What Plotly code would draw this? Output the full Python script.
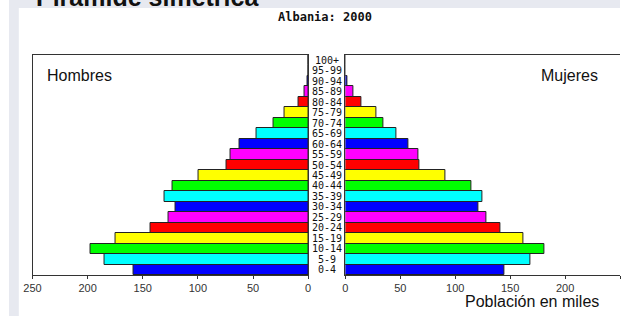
import plotly.graph_objects as go

W, H = 623, 316

age_groups = ["0-4", "5-9", "10-14", "15-19", "20-24", "25-29", "30-34", "35-39",
              "40-44", "45-49", "50-54", "55-59", "60-64", "65-69", "70-74", "75-79",
              "80-84", "85-89", "90-94", "95-99", "100+"]
hombres = [158, 185, 197, 175, 143, 127, 120, 130, 123, 99, 74, 70, 62, 47, 31, 21, 9, 3, 0.6, 0, 0]
mujeres = [145, 168, 181, 162, 141, 128, 121, 125, 115, 91, 67, 66, 57, 46, 35, 28, 15, 7, 1.8, 0, 0]
color_cycle = ["#0000ff", "#00ffff", "#00ff00", "#ffff00", "#ff0000", "#ff00ff"]
tick_vals = [0, 50, 100, 150, 200, 250]

colors = [color_cycle[i % len(color_cycle)] for i in range(len(age_groups))]
idx = list(range(len(age_groups)))


def px(x):
    return x / W


def py(y):
    return 1 - y / H


fig = go.Figure()
fig.add_trace(go.Bar(y=idx, x=hombres, orientation="h", xaxis="x", yaxis="y",
                     marker=dict(color=colors, line=dict(color="#222", width=1)),
                     showlegend=False, hoverinfo="skip"))
fig.add_trace(go.Bar(y=idx, x=mujeres, orientation="h", xaxis="x2", yaxis="y2",
                     marker=dict(color=colors, line=dict(color="#222", width=1)),
                     showlegend=False, hoverinfo="skip"))

line_style = dict(showline=True, linecolor="#333", linewidth=1,
                  showgrid=False, zeroline=False)
tickfont = dict(family="Liberation Sans, Arial", size=11, color="#333")

ydom = [py(275), py(55)]
fig.update_layout(
    width=W, height=H,
    margin=dict(l=0, r=0, t=0, b=0),
    paper_bgcolor="white", plot_bgcolor="white",
    bargap=0, barmode="overlay",
    xaxis=dict(domain=[px(24), px(305)], range=[250, 0], tickvals=tick_vals,
               ticks="outside", ticklen=3, tickcolor="#333", tickfont=tickfont,
               anchor="y", mirror=True, **line_style),
    yaxis=dict(domain=ydom, range=[-0.5, 20.5], showticklabels=False,
               anchor="x", mirror=True, **line_style),
    xaxis2=dict(domain=[px(343), 1], range=[0, 250], tickvals=tick_vals,
                ticks="outside", ticklen=3, tickcolor="#333", tickfont=tickfont,
                anchor="y2", mirror=True, **line_style),
    yaxis2=dict(domain=ydom, range=[-0.5, 20.5], showticklabels=False,
                anchor="x2", mirror=False, **line_style),
    shapes=[
        dict(type="rect", xref="paper", yref="paper", x0=0, x1=px(10), y0=0, y1=1,
             fillcolor="#e7e9f0", line=dict(width=0), layer="below"),
        dict(type="rect", xref="paper", yref="paper", x0=0, x1=1, y0=py(8), y1=1,
             fillcolor="#e7e9f0", line=dict(width=0), layer="below"),
    ],
)

annotations = []
for i, lab in enumerate(age_groups):
    annotations.append(dict(x=px(324), y=i, xref="paper", yref="y", text=lab,
                            showarrow=False, xanchor="center", yanchor="middle",
                            font=dict(family="DejaVu Sans Mono", size=10, color="#111")))
annotations += [
    dict(x=px(25), y=py(13), xref="paper", yref="paper", text="<b>Pirámide simétrica</b>",
         showarrow=False, xanchor="left", yanchor="bottom",
         font=dict(family="Liberation Sans, Arial", size=25, color="#111")),
    dict(x=px(322), y=py(17), xref="paper", yref="paper", text="<b>Albania: 2000</b>",
         showarrow=False, xanchor="center", yanchor="middle",
         font=dict(family="DejaVu Sans Mono", size=12, color="#111")),
    dict(x=px(72), y=py(76), xref="paper", yref="paper", text="Hombres",
         showarrow=False, xanchor="center", yanchor="middle",
         font=dict(family="Liberation Sans, Arial", size=16, color="#111")),
    dict(x=px(572), y=py(76), xref="paper", yref="paper", text="Mujeres",
         showarrow=False, xanchor="center", yanchor="middle",
         font=dict(family="Liberation Sans, Arial", size=16, color="#111")),
    dict(x=px(533), y=py(301), xref="paper", yref="paper", text="Población en miles",
         showarrow=False, xanchor="center", yanchor="middle",
         font=dict(family="Liberation Sans, Arial", size=16, color="#111")),
]
fig.update_layout(annotations=annotations)

post = ("document.body.style.margin='0';"
        "document.documentElement.style.overflow='hidden';"
        "document.body.style.overflow='hidden';")
fig.write_html("out.html", config={"displayModeBar": False}, post_script=post)
